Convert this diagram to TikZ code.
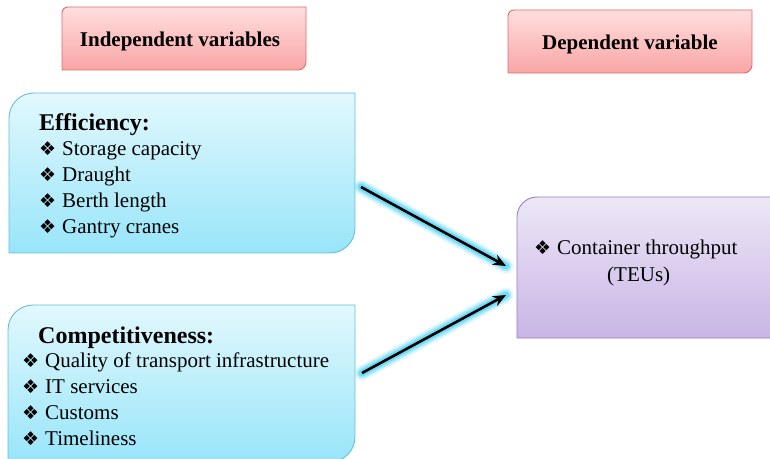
\documentclass[tikz,border=0pt]{standalone}
\usepackage{fontspec}
\setmainfont{Liberation Serif}
\newfontfamily\symfont{DejaVu Sans}
\usetikzlibrary{arrows.meta}
\definecolor{pinkTop}{RGB}{255,222,222}
\definecolor{pinkBot}{RGB}{249,165,165}
\definecolor{pinkLine}{RGB}{222,108,108}
\definecolor{cyanTop}{RGB}{226,248,253}
\definecolor{cyanBot}{RGB}{152,229,249}
\definecolor{cyanLine}{RGB}{102,190,215}
\definecolor{lavTop}{RGB}{237,231,247}
\definecolor{lavBot}{RGB}{200,181,229}
\definecolor{lavLine}{RGB}{152,126,192}
\definecolor{glowc}{RGB}{80,210,245}
\newcommand\dbox[7]{\path[#7] (#1,#2) -- (#1,#4-#5) arc[start angle=180,end angle=90,radius=#5] -- (#3,#4) -- (#3,#2+#6) arc[start angle=0,end angle=-90,radius=#6] -- cycle;}
\newcommand\dia{\makebox[23pt][l]{\symfont\fontsize{19}{19}\selectfont ❖}}
\tikzset{
  pinkbox/.style={draw=pinkLine, line width=0.9pt, top color=pinkTop, bottom color=pinkBot},
  cyanbox/.style={draw=cyanLine, line width=0.9pt, top color=cyanTop, bottom color=cyanBot},
  lavbox/.style={draw=lavLine, line width=0.9pt, top color=lavTop, bottom color=lavBot},
  head/.style={font=\fontsize{21}{25}\selectfont\bfseries, inner sep=0pt},
  title/.style={font=\fontsize{24}{26}\selectfont\bfseries, inner sep=0pt, anchor=base west},
  item/.style={font=\fontsize{21}{26}\selectfont, inner sep=0pt, anchor=base west},
  area/.style={inner sep=0pt, draw=none},
  glow/.style={line cap=round, glowc},
  arr/.style={line width=2.6pt, black, -{Stealth[length=13pt,width=11pt]}}
}
\begin{document}
\begin{tikzpicture}[x=1pt,y=1pt]
\useasboundingbox (0,0) rectangle (770,458);
\clip (0,0) rectangle (770,458);
% box shapes
\dbox{62}{388}{306}{451}{6}{8}{pinkbox}
\dbox{508}{385}{752}{448}{6}{8}{pinkbox}
\dbox{9}{205}{355}{365}{25}{25}{cyanbox}
\dbox{8}{-4}{355}{153}{25}{25}{cyanbox}
\dbox{517}{120}{790}{261}{20}{20}{lavbox}
% area nodes
\node[area, minimum width=244pt, minimum height=63pt] (indep) at (184,419.5) {};
\node[area, minimum width=244pt, minimum height=63pt] (dep) at (630,416.5) {};
\node[area, minimum width=346pt, minimum height=160pt] (eff) at (182,285) {};
\node[area, minimum width=347pt, minimum height=157pt] (comp) at (181.5,74.5) {};
\node[area, minimum width=253pt, minimum height=141pt] (cont) at (643.5,190.5) {};
% headings
\node[head] (indepT) at (180,417) {Independent variables};
\node[head] (depT) at (630,414) {Dependent variable};
% efficiency
\node[title] (e0) at (39,327) {Efficiency:};
\node[item] (e1) at (39,302) {\dia Storage capacity};
\node[item] (e2) at (39,276) {\dia Draught};
\node[item] (e3) at (39,250) {\dia Berth length};
\node[item] (e4) at (39,224) {\dia Gantry cranes};
% competitiveness
\node[title] (c0) at (38,115) {Competitiveness:};
\node[item] (c1) at (22,91) {\dia Quality of transport infrastructure};
\node[item] (c2) at (22,65) {\dia IT services};
\node[item] (c3) at (22,39) {\dia Customs};
\node[item] (c4) at (22,13) {\dia Timeliness};
% container
\node[item] (t1) at (534,204) {\dia Container throughput};
\node[item] (t2) at (607,177) {(TEUs)};
% arrows
\coordinate (a1s) at (361,271);
\coordinate (a1e) at (506,192);
\coordinate (a2s) at (362,85);
\coordinate (a2e) at (506,163);
\foreach \s/\e in {a1s/a1e, a2s/a2e}{
  \draw[glow, line width=15pt, opacity=0.18] (\s) -- (\e);
  \draw[glow, line width=11pt, opacity=0.35] (\s) -- (\e);
  \draw[glow, line width=7pt, opacity=0.6] (\s) -- (\e);
  \draw[arr] (\s) -- (\e);
}
\end{tikzpicture}
\end{document}
